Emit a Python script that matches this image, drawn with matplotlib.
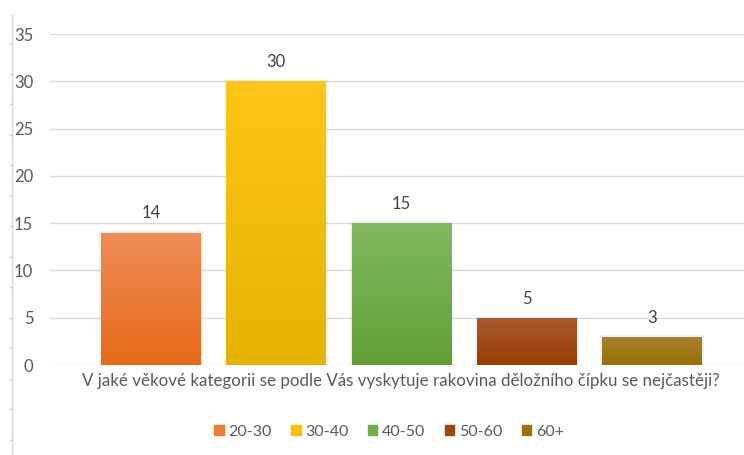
import numpy as np
import matplotlib
matplotlib.use("Agg")
import matplotlib.pyplot as plt
from matplotlib.colors import LinearSegmentedColormap
from matplotlib.patches import Patch
from matplotlib.lines import Line2D

# data
series = ["20-30", "30-40", "40-50", "50-60", "60+"]
values = [14, 30, 15, 5, 3]
category = "V jaké věkové kategorii se podle Vás vyskytuje rakovina děložního čípku se nejčastěji?"
# (top, bottom) colours of each bar's gradient, legend colour
tops = ["#F08C56", "#FFC517", "#80B85F", "#AA5A31", "#A5822F"]
bottoms = ["#E46A17", "#E5B300", "#61A134", "#9A3D00", "#997000"]
legend_cols = ["#ED7D31", "#FFC000", "#70AD47", "#9E480E", "#997300"]

plt.rcParams["font.family"] = ["Lato", "DejaVu Sans"]
TXT = "#595959"

fig = plt.figure(figsize=(7.44, 4.55), dpi=100)
W, H = 744, 455
ax = fig.add_axes([50 / W, 1 - 365 / H, 1 - 50 / W, (365 - 34) / H])

step = 125.25
xs = np.arange(len(values))
ax.set_xlim((50 - 151) / step, (744 - 151) / step)
ax.set_ylim(0, 35)

bw = 100 / step
bars = ax.bar(xs, values, width=bw, color="none", zorder=3)
for b, v, t, c in zip(bars, values, tops, bottoms):
    x0 = b.get_x()
    # soft shadow
    ax.add_patch(plt.Rectangle((x0 - 0.012, 0), bw + 0.024, v + 0.12, color="black",
                               alpha=0.05, lw=0, zorder=2))
    cmap = LinearSegmentedColormap.from_list("g", [c, t])
    grad = np.linspace(0, 1, 256).reshape(-1, 1)
    im = ax.imshow(grad, cmap=cmap, origin="lower", aspect="auto",
                   extent=[x0, x0 + bw, 0, v], zorder=3)
    im.set_clip_path(b)
    ax.annotate(f"{v}", (x0 + bw / 2, v), xytext=(0, 8), textcoords="offset points",
                ha="center", va="bottom", fontsize=12, color="#404040")

ax.set_yticks(range(0, 36, 5))
ax.tick_params(axis="y", length=0, pad=12, labelsize=12, labelcolor=TXT)
ax.tick_params(axis="x", length=0)
ax.set_xticks([])
ax.grid(axis="y", color="#d9d9d9", lw=1, zorder=0)
ax.set_axisbelow(True)
for s in ax.spines.values():
    s.set_visible(False)

fig.text(401 / W, 1 - 381 / H, category, ha="center", va="center", fontsize=12.2, color=TXT)

# left border line with little ticks
fig.add_artist(Line2D([12 / W, 12 / W], [0, 1 - 14 / H], color="#d9d9d9", lw=1))
for yp in np.arange(43, 455, 30.5):
    fig.add_artist(Line2D([10 / W, 12 / W], [1 - yp / H, 1 - yp / H], color="#d0d0d0", lw=1))

handles = [Patch(color=c) for c in legend_cols]
fig.legend(handles, series, loc="center", bbox_to_anchor=(389 / W, 1 - 432 / H), ncol=5,
           frameon=False, fontsize=11.5, labelcolor=TXT, handlelength=0.6, handleheight=0.6,
           handletextpad=0.3, columnspacing=1.2)

fig.savefig("out.png", dpi=100, facecolor="white")
